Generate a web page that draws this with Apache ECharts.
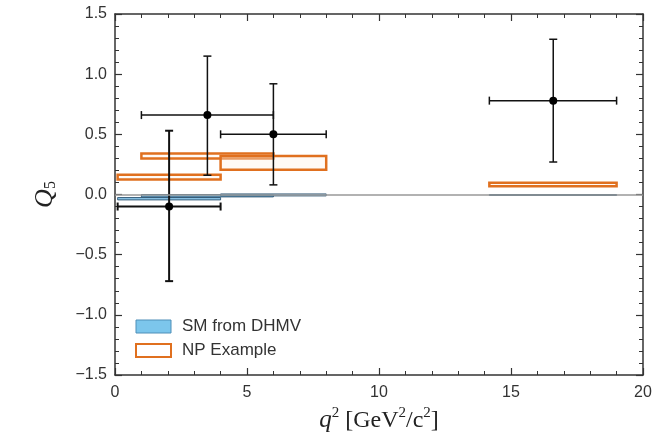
<!DOCTYPE html>
<html>
<head>
<meta charset="utf-8">
<script src="https://cdn.jsdelivr.net/npm/echarts@6/dist/echarts.min.js"></script>
<style>html,body{margin:0;padding:0;background:#fff}#chart{width:669px;height:438px}</style>
</head>
<body>
<div id="chart"></div>
<script>
// q2 bins
var binLo = [0.1, 1.0, 4.0, 14.18];
var binHi = [4.0, 6.0, 8.0, 19.0];
// measured Q5
var q5X = [2.05, 3.5, 6.0, 16.6];
var q5Val = [-0.10, 0.66, 0.50, 0.78];
var q5Lo = [-0.72, 0.16, 0.08, 0.27];
var q5Hi = [0.53, 1.15, 0.92, 1.29];
// SM prediction bands
var smLo = [-0.045, -0.02, -0.012, -0.005];
var smHi = [-0.025, 0.0, 0.005, 0.0];
// NP example bands
var npLo = [0.125, 0.30, 0.205, 0.068];
var npHi = [0.165, 0.34, 0.32, 0.098];

var myChart = echarts.init(document.getElementById('chart'));

function boxData(lo, hi) {
    var res = [];
    for (var i = 0; i < binLo.length; i++) {
        res.push([binLo[i], binHi[i], lo[i], hi[i]]);
    }
    return res;
}

function boxRender(fill, stroke, lw) {
    return function (params, api) {
        var p1 = api.coord([api.value(0), api.value(3)]);
        var p2 = api.coord([api.value(1), api.value(2)]);
        return {
            type: 'rect',
            shape: {x: p1[0], y: p1[1], width: p2[0] - p1[0], height: Math.max(p2[1] - p1[1], 1)},
            style: {fill: fill, stroke: stroke, lineWidth: lw}
        };
    };
}

var errData = [];
for (var i = 0; i < q5X.length; i++) {
    errData.push([q5X[i], q5Val[i], binLo[i], binHi[i], q5Lo[i], q5Hi[i]]);
}

function axisCommon() {
    return {
        axisLine: {show: true, onZero: false, lineStyle: {color: '#333', width: 1.5}},
        axisTick: {show: true, inside: true, length: 7, lineStyle: {color: '#333', width: 1.2}},
        minorTick: {show: true, splitNumber: 5, length: 4, lineStyle: {color: '#333', width: 1}},
        splitLine: {show: false}
    };
}

var option = {
    animation: false,
    grid: {left: 115, right: 26, top: 14, bottom: 60},
    legend: {
        left: 130, top: 313, orient: 'vertical',
        itemWidth: 35, itemHeight: 13, itemGap: 7,
        textStyle: {fontFamily: 'Liberation Sans', fontSize: 17, color: '#333', padding: [0, 0, 0, 6]},
        data: [
            {name: 'SM from DHMV', icon: 'rect', itemStyle: {color: '#7cc6ec', borderColor: '#4f8fb8', borderWidth: 1}},
            {name: 'NP Example', icon: 'rect', itemStyle: {color: '#fff', borderColor: '#e0701f', borderWidth: 2}}
        ]
    },
    xAxis: [
        Object.assign(axisCommon(), {
            type: 'value', min: 0, max: 20, interval: 5, position: 'bottom',
            name: '{i|q}{s|2}{n| [GeV}{s|2}{n|/c}{s|2}{n|]}',
            nameLocation: 'middle', nameGap: 31,
            nameTextStyle: {
                rich: {
                    i: {fontFamily: 'Liberation Serif', fontStyle: 'italic', fontSize: 25, color: '#222'},
                    n: {fontFamily: 'Liberation Serif', fontSize: 24, color: '#222'},
                    s: {fontFamily: 'Liberation Serif', fontSize: 15, color: '#222', padding: [0, 0, 14, 0]}
                }
            },
            axisLabel: {fontFamily: 'Liberation Sans', fontSize: 16, color: '#333', margin: 10}
        }),
        Object.assign(axisCommon(), {
            type: 'value', min: 0, max: 20, interval: 5, position: 'top',
            axisLabel: {show: false}
        })
    ],
    yAxis: [
        Object.assign(axisCommon(), {
            type: 'value', min: -1.5, max: 1.5, interval: 0.5, position: 'left',
            name: '{i|Q}{s|5}', nameLocation: 'middle', nameGap: 56, nameRotate: 90,
            nameTextStyle: {
                rich: {
                    i: {fontFamily: 'Liberation Serif', fontStyle: 'italic', fontSize: 26, color: '#222'},
                    s: {fontFamily: 'Liberation Serif', fontSize: 16, color: '#222', padding: [12, 0, 0, 0]}
                }
            },
            axisLabel: {
                fontFamily: 'Liberation Sans', fontSize: 16, color: '#333', margin: 8,
                formatter: function (v) { return v.toFixed(1).replace('-', '\u2212'); }
            }
        }),
        Object.assign(axisCommon(), {
            type: 'value', min: -1.5, max: 1.5, interval: 0.5, position: 'right',
            axisLabel: {show: false}
        })
    ],
    series: [
        {
            name: 'zero', type: 'line', data: [], silent: true, z: 1,
            markLine: {
                silent: true, symbol: 'none', label: {show: false},
                lineStyle: {color: '#999', width: 1.5, type: 'solid'},
                data: [{yAxis: 0}]
            }
        },
        {
            name: 'SM from DHMV', type: 'custom', z: 2,
            renderItem: boxRender('rgba(95,170,215,0.75)', 'rgba(40,80,110,0.85)', 1),
            data: boxData(smLo, smHi)
        },
        {
            name: 'NP Example', type: 'custom', z: 3,
            renderItem: boxRender('rgba(255,240,230,0.35)', '#e0701f', 2.5),
            data: boxData(npLo, npHi)
        },
        {
            name: 'data', type: 'custom', z: 4,
            renderItem: function (params, api) {
                var c = api.coord([api.value(0), api.value(1)]);
                var xl = api.coord([api.value(2), api.value(1)]);
                var xh = api.coord([api.value(3), api.value(1)]);
                var yl = api.coord([api.value(0), api.value(4)]);
                var yh = api.coord([api.value(0), api.value(5)]);
                var st = {stroke: '#111', lineWidth: params.dataIndex === 0 ? 2 : 1.5};
                var cap = 4;
                return {
                    type: 'group',
                    children: [
                        {type: 'line', shape: {x1: xl[0], y1: c[1], x2: xh[0], y2: c[1]}, style: st},
                        {type: 'line', shape: {x1: xl[0], y1: c[1] - cap, x2: xl[0], y2: c[1] + cap}, style: st},
                        {type: 'line', shape: {x1: xh[0], y1: c[1] - cap, x2: xh[0], y2: c[1] + cap}, style: st},
                        {type: 'line', shape: {x1: c[0], y1: yl[1], x2: c[0], y2: yh[1]}, style: st},
                        {type: 'line', shape: {x1: c[0] - cap, y1: yl[1], x2: c[0] + cap, y2: yl[1]}, style: st},
                        {type: 'line', shape: {x1: c[0] - cap, y1: yh[1], x2: c[0] + cap, y2: yh[1]}, style: st},
                        {type: 'circle', shape: {cx: c[0], cy: c[1], r: 4}, style: {fill: '#000'}}
                    ]
                };
            },
            data: errData
        }
    ]
};

myChart.setOption(option);
</script>
</body>
</html>
